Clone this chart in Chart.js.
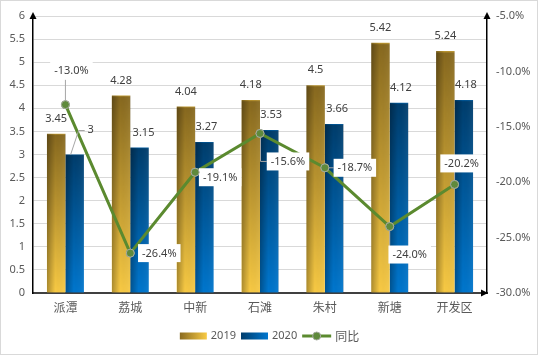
<!DOCTYPE html>
<html>
<head>
<meta charset="utf-8">
<script src="https://cdn.jsdelivr.net/npm/chart.js@4"></script>
<style>
html,body{margin:0;padding:0;background:#fff;}
canvas{display:block;}
</style>
</head>
<body>
<canvas id="c" width="539" height="356"></canvas>
<script>
const categories = ['派潭', '荔城', '中新', '石滩', '朱村', '新塘', '开发区'];
const values2019 = [3.45, 4.28, 4.04, 4.18, 4.5, 5.42, 5.24];
const values2020 = [3, 3.15, 3.27, 3.53, 3.66, 4.12, 4.18];
const yoyValues = [-13.0, -26.4, -19.1, -15.6, -18.7, -24.0, -20.2];
const seriesNames = ['2019', '2020', '同比'];

const CAT_PCT = 0.57;
const NUM_FONT = "11px 'Noto Sans', 'Noto Sans CJK SC', sans-serif";
const CJK_FONT = "12px 'Noto Sans CJK SC', 'Noto Sans', sans-serif";
const TEXT = '#595959';
const LABEL = '#404040';
const GREEN = '#5b8a2f';

function barTexture(top, bottom) {
  const c = document.createElement('canvas');
  c.width = 64; c.height = 64;
  const g = c.getContext('2d');
  const v = g.createLinearGradient(0, 0, 0, 64);
  v.addColorStop(0, top); v.addColorStop(1, bottom);
  g.fillStyle = v; g.fillRect(0, 0, 64, 64);
  const h = g.createLinearGradient(0, 0, 64, 0);
  h.addColorStop(0, 'rgba(0,0,0,0.30)');
  h.addColorStop(0.45, 'rgba(0,0,0,0)');
  h.addColorStop(1, 'rgba(255,255,255,0.06)');
  g.fillStyle = h; g.fillRect(0, 0, 64, 64);
  return c;
}
const goldTex = barTexture('#86681f', '#f8ca44');
const blueTex = barTexture('#003d6c', '#0077cf');

function barFill(tex, side, fallback) {
  return (ctx) => {
    const chart = ctx.chart;
    if (!chart.chartArea || ctx.type !== 'data') return fallback;
    const xs = chart.scales.x, ys = chart.scales.y;
    const n = chart.data.labels.length;
    const w = (xs.width / n) * CAT_PCT / 2;
    const cx = xs.getPixelForValue(ctx.dataIndex);
    const left = side < 0 ? cx - w : cx;
    const top = ys.getPixelForValue(ctx.raw);
    const bot = ys.getPixelForValue(0);
    const p = chart.ctx.createPattern(tex, 'repeat');
    p.setTransform(new DOMMatrix([w / 64, 0, 0, Math.max(1, bot - top) / 64, left, top]));
    return p;
  };
}

// label placement (relative to mark)
const bar2020LabelShift = [[16, -25], [4, -15], [2, -15], [2, -15], [3, -15], [2, -15], [2, -15]];
const yoyLabelShift = [[6, -34], [29, 0], [25, 5], [28, 28], [30, 0], [20, 28], [7, -21]];
const yoyLeader = ['straight', null, null, 'elbow', 'straight', 'straight', 'straight'];

const decor = {
  id: 'decor',
  afterDraw(chart) {
    const ctx = chart.ctx;
    const ca = chart.chartArea;
    ctx.save();
    // axis arrows
    ctx.fillStyle = '#000';
    const tri = (pts) => { ctx.beginPath(); ctx.moveTo(pts[0], pts[1]); ctx.lineTo(pts[2], pts[3]); ctx.lineTo(pts[4], pts[5]); ctx.closePath(); ctx.fill(); };
    tri([ca.left, ca.top - 4, ca.left - 3.5, ca.top + 3, ca.left + 3.5, ca.top + 3]);
    tri([ca.right, ca.top - 4, ca.right - 3.5, ca.top + 3, ca.right + 3.5, ca.top + 3]);
    tri([ca.right + 1, ca.bottom, ca.right - 6, ca.bottom - 3.5, ca.right - 6, ca.bottom + 3.5]);

    // bar value labels
    ctx.font = NUM_FONT;
    ctx.textAlign = 'center';
    ctx.textBaseline = 'middle';
    ctx.fillStyle = LABEL;
    const m0 = chart.getDatasetMeta(0), m1 = chart.getDatasetMeta(1);
    m0.data.forEach((el, i) => {
      ctx.fillText(String(values2019[i]), el.x, el.y - 15);
    });
    m1.data.forEach((el, i) => {
      const [dx, dy] = bar2020LabelShift[i];
      const lx = el.x + dx, ly = el.y + dy;
      if (i === 0) {
        ctx.strokeStyle = '#a6a6a6';
        ctx.lineWidth = 1;
        ctx.beginPath();
        ctx.moveTo(el.x - 4, el.y);
        ctx.lineTo(lx - 12, ly + 1);
        ctx.lineTo(lx - 6, ly + 1);
        ctx.stroke();
      }
      ctx.fillStyle = LABEL;
      ctx.fillText(String(values2020[i]), lx, ly);
    });

    // yoy labels
    const m2 = chart.getDatasetMeta(2);
    m2.data.forEach((el, i) => {
      const txt = yoyValues[i].toFixed(1) + '%';
      const [dx, dy] = yoyLabelShift[i];
      const cx = el.x + dx, cy = el.y + dy;
      const tw = ctx.measureText(txt).width;
      const bw = tw + 8, bh = 18;
      const bx = cx - bw / 2, by = cy - bh / 2;
      const kind = yoyLeader[i];
      if (kind) {
        ctx.strokeStyle = '#a6a6a6';
        ctx.lineWidth = 1;
        ctx.beginPath();
        if (kind === 'elbow') {
          ctx.moveTo(el.x + 0.5, el.y + 4);
          ctx.lineTo(el.x + 0.5, cy);
          ctx.lineTo(bx, cy);
        } else {
          const tx = Math.min(Math.max(el.x, bx), bx + bw);
          const ty = Math.min(Math.max(el.y, by), by + bh);
          ctx.moveTo(el.x, el.y);
          ctx.lineTo(tx, ty);
        }
        ctx.stroke();
      }
      ctx.fillStyle = '#fff';
      ctx.fillRect(bx, by, bw, bh);
      ctx.fillStyle = LABEL;
      ctx.fillText(txt, cx, cy + 0.5);
    });
    // redraw yoy points over leader lines
    m2.data.forEach((el) => {
      ctx.beginPath();
      ctx.arc(el.x, el.y, 4, 0, Math.PI * 2);
      ctx.fillStyle = '#5f8a3c';
      ctx.fill();
      ctx.strokeStyle = '#a5ab9f';
      ctx.lineWidth = 1;
      ctx.stroke();
    });

    // legend
    const ly = 336;
    ctx.font = NUM_FONT;
    const lf = (t) => /[\u4e00-\u9fff]/.test(t) ? CJK_FONT : NUM_FONT;
    const items = seriesNames.map((name, k) => {
      ctx.font = lf(name);
      return { name, k, sym: k === 2 ? 29 : 27, tw: ctx.measureText(name).width };
    });
    const gapSym = 4, gapItem = 5;
    let total = 0;
    items.forEach((it, j) => { total += it.sym + gapSym + it.tw + (j < items.length - 1 ? gapItem : 0); });
    let x = (chart.width - total) / 2;
    items.forEach((it) => {
      if (it.k === 2) {
        ctx.strokeStyle = GREEN; ctx.lineWidth = 3;
        ctx.beginPath(); ctx.moveTo(x, ly); ctx.lineTo(x + it.sym, ly); ctx.stroke();
        ctx.beginPath(); ctx.arc(x + it.sym / 2, ly, 4, 0, Math.PI * 2);
        ctx.fillStyle = '#5f8a3c'; ctx.fill();
        ctx.strokeStyle = '#a5ab9f'; ctx.lineWidth = 1; ctx.stroke();
      } else {
        const g = ctx.createLinearGradient(x, 0, x + it.sym, 0);
        if (it.k === 0) { g.addColorStop(0, '#8a6b20'); g.addColorStop(1, '#f8ca44'); }
        else { g.addColorStop(0, '#003d6c'); g.addColorStop(1, '#0077cf'); }
        ctx.fillStyle = g;
        ctx.fillRect(x, ly - 3.5, it.sym, 7);
      }
      x += it.sym + gapSym;
      ctx.font = lf(it.name);
      ctx.fillStyle = TEXT;
      ctx.textAlign = 'left';
      ctx.textBaseline = 'middle';
      ctx.fillText(it.name, x, ly);
      x += it.tw + gapItem;
    });

    // outer frame
    ctx.strokeStyle = '#d9d9d9';
    ctx.lineWidth = 1;
    ctx.strokeRect(0.5, 0.5, chart.width - 2, chart.height - 2);
    ctx.restore();
  }
};

new Chart(document.getElementById('c'), {
  data: {
    labels: categories,
    datasets: [
      {
        type: 'bar', label: seriesNames[0], data: values2019, yAxisID: 'y', order: 1,
        backgroundColor: barFill(goldTex, -1, '#c9a035'),
        categoryPercentage: CAT_PCT, barPercentage: 1
      },
      {
        type: 'bar', label: seriesNames[1], data: values2020, yAxisID: 'y', order: 1,
        backgroundColor: barFill(blueTex, 1, '#005a9e'),
        categoryPercentage: CAT_PCT, barPercentage: 1
      },
      {
        type: 'line', label: seriesNames[2], data: yoyValues, yAxisID: 'y2', order: 0,
        borderColor: GREEN, borderWidth: 3, tension: 0,
        pointRadius: 4, pointBackgroundColor: '#5f8a3c', pointBorderColor: '#a5ab9f', pointBorderWidth: 1
      }
    ]
  },
  options: {
    responsive: false,
    animation: false,
    layout: { padding: { top: 16, left: 0, right: 0, bottom: 0 } },
    plugins: { legend: { display: false }, tooltip: { enabled: false } },
    scales: {
      x: {
        type: 'category',
        grid: { display: false, drawTicks: false },
        border: { display: true, color: '#404040', width: 2 },
        ticks: { color: TEXT, font: { family: "'Noto Sans CJK SC', 'Noto Sans', sans-serif", size: 12 }, padding: 7 },
        afterFit(s) { s.height = 63; }
      },
      y: {
        position: 'left', min: 0, max: 6,
        grid: { color: '#d9d9d9', lineWidth: 1, drawTicks: false },
        border: { display: true, color: '#000', width: 1.5 },
        ticks: { stepSize: 0.5, color: TEXT, font: { family: "'Noto Sans', sans-serif", size: 11 }, padding: 8,
          callback: (v) => String(v) },
        afterFit(s) { s.width = 33; }
      },
      y2: {
        position: 'right', min: -30, max: -5,
        grid: { display: false, drawTicks: false },
        border: { display: true, color: '#000', width: 1.5 },
        ticks: { stepSize: 5, color: TEXT, font: { family: "'Noto Sans', sans-serif", size: 11 }, padding: 9,
          callback: (v) => v.toFixed(1) + '%' },
        afterFit(s) { s.width = 52; }
      }
    }
  },
  plugins: [decor]
});
</script>
</body>
</html>
